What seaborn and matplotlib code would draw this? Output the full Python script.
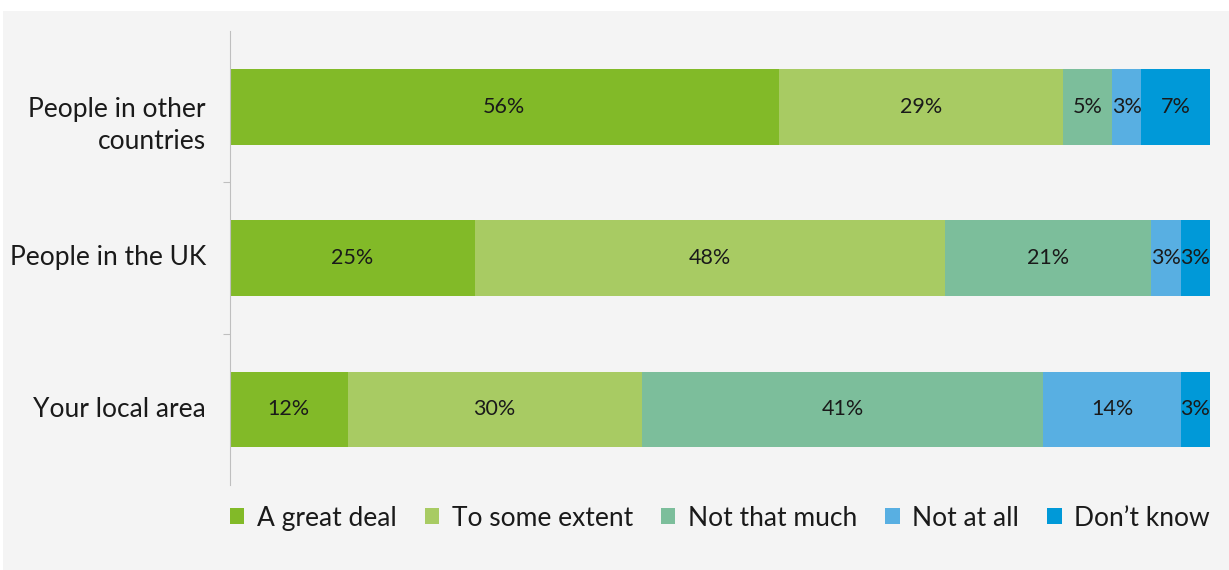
import matplotlib
matplotlib.use("Agg")
import matplotlib.pyplot as plt
from matplotlib.patches import Rectangle, Patch
from matplotlib import transforms
import numpy as np
import seaborn as sns

categories = ["People in other\ncountries", "People in the UK", "Your local area"]
series_names = ["A great deal", "To some extent", "Not that much", "Not at all", "Don\u2019t know"]
great_deal = [56, 25, 12]
some_extent = [29, 48, 30]
not_much = [5, 21, 41]
not_at_all = [3, 3, 14]
dont_know = [7, 3, 3]
colors = ["#82BA28", "#A8CB63", "#7CBE9B", "#58AFE2", "#0099D8"]

sns.set_theme(style="white")
plt.rcParams["font.family"] = ["Lato", "DejaVu Sans"]
FS = 19
FS_VAL = 15.5
TEXT = "#1A1A1A"
BG = "#F4F4F4"

series = np.array([great_deal, some_extent, not_much, not_at_all, dont_know], dtype=float)
cum = np.cumsum(series, axis=0)

W, H = 1229, 570
fig = plt.figure(figsize=(W / 100, H / 100), dpi=100)
fig.patches.append(Rectangle((3 / W, 0), 1, 1 - 11 / H, transform=fig.transFigure,
                             facecolor=BG, edgecolor="none", zorder=-10))
ax = fig.add_axes([230 / W, 1 - 485 / H, 980 / W, 454 / H])
ax.set_facecolor("none")

# stacked bars: draw running totals from the largest down so each segment shows
for k in range(len(series_names) - 1, -1, -1):
    sns.barplot(x=cum[k], y=categories, orient="h", color=colors[k], saturation=1,
                width=0.5, linewidth=0, edgecolor="none", ax=ax, label=series_names[k])

# value labels centred in each segment
left = np.vstack([np.zeros(series.shape[1]), cum[:-1]])
for k in range(series.shape[0]):
    for i in range(series.shape[1]):
        ax.text(left[k, i] + series[k, i] / 2, i, f"{series[k, i]:.0f}%",
                ha="center", va="center", fontsize=FS_VAL, color=TEXT)

ax.set_xlim(0, 100)
ax.set_ylim(2.5, -0.5)
ax.set_xlabel("")
ax.set_ylabel("")
ax.set_xticks([])
ax.set_yticks(range(len(categories)))
ax.set_yticklabels([])
ax.set_yticks([0.5, 1.5], minor=True)
ax.tick_params(axis="y", which="major", length=0)
ax.tick_params(axis="y", which="minor", left=True, length=5, width=0.8, color="#BFBFBF")

# category labels: first line of each label sits level with its bar
for i, cat in enumerate(categories):
    n_extra = cat.count("\n")
    tr = transforms.offset_copy(ax.get_yaxis_transform(), fig=fig,
                                x=-24, y=-19 * n_extra, units="dots")
    ax.text(0, i, cat, transform=tr, ha="right", va="center", multialignment="right",
            fontsize=FS, color=TEXT, linespacing=1.33)

for s in ["top", "right", "bottom"]:
    ax.spines[s].set_visible(False)
ax.spines["left"].set_color("#BFBFBF")
ax.spines["left"].set_linewidth(0.8)

handles = [Patch(facecolor=c, edgecolor="none") for c in colors]
ax.legend(handles, series_names, loc="center", bbox_to_anchor=(0, -0.1227, 1, 0.1),
          mode="expand", ncol=5, frameon=False, fontsize=FS, handlelength=0.54,
          handleheight=0.54, handletextpad=0.48, borderpad=0, borderaxespad=0,
          labelcolor=TEXT)

fig.savefig("out.png", dpi=100, facecolor="white")
